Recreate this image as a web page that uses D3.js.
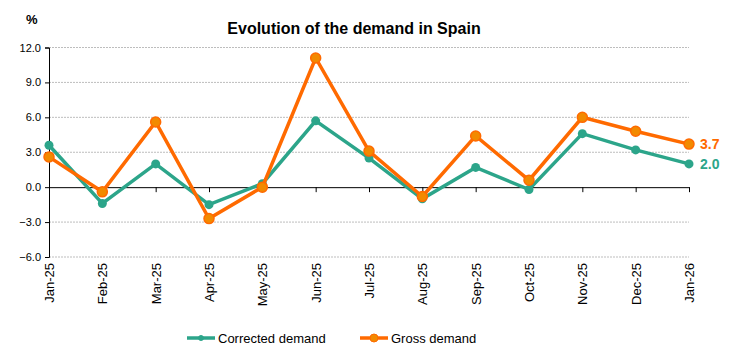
<!DOCTYPE html>
<html>
<head>
<meta charset="utf-8">
<title>Evolution of the demand in Spain</title>
<script src="https://d3js.org/d3.v7.min.js"></script>
<style>
html, body { margin: 0; padding: 0; background: #fff; }
svg { display: block; font-family: "Liberation Sans", Arial, sans-serif; }
.grid line { stroke: #bdbdbd; stroke-dasharray: 2 1; }
</style>
</head>
<body>
<script>
let months = ['Jan-25', 'Feb-25', 'Mar-25', 'Apr-25', 'May-25', 'Jun-25', 'Jul-25', 'Aug-25', 'Sep-25', 'Oct-25', 'Nov-25', 'Dec-25', 'Jan-26'];
let corrected = [3.6, -1.4, 2.0, -1.5, 0.3, 5.7, 2.5, -1.0, 1.7, -0.2, 4.6, 3.2, 2.0];
let gross = [2.6, -0.4, 5.6, -2.7, 0.0, 11.1, 3.1, -0.8, 4.4, 0.6, 6.0, 4.8, 3.7];
let yTicks = [-6, -3, 0, 3, 6, 9, 12];

let green = '#2ca58a', orange = '#ff6a00', orangeFill = '#f28a00';
let font = '"Liberation Sans", Arial, sans-serif';

let svg = d3.select('body').append('svg').attr('width', 745).attr('height', 354);

let x = d3.scalePoint().domain(months).range([49, 689]);
let y = d3.scaleLinear().domain([-6, 12]).range([257, 47.5]);

svg.append('text').attr('x', 354).attr('y', 34).attr('text-anchor', 'middle')
    .attr('font-size', 16).attr('font-weight', 'bold').text('Evolution of the demand in Spain');
svg.append('text').attr('x', 26).attr('y', 24).attr('font-size', 13).attr('font-weight', 'bold').text('%');

// gridlines
svg.append('g').attr('class', 'grid').selectAll('line').data(yTicks.filter(d => d !== 0)).enter().append('line')
    .attr('x1', 49).attr('x2', 689).attr('y1', d => y(d)).attr('y2', d => y(d));

// y axis
let yAxis = svg.append('g').attr('transform', 'translate(49,0)')
    .call(d3.axisLeft(y).tickValues(yTicks).tickSize(4).tickFormat(d3.format('.1f')))
    .attr('font-family', font).attr('font-size', 11);
yAxis.select('.domain').attr('stroke', '#000');
yAxis.selectAll('.tick text').attr('x', -8).attr('fill', '#000');

// x axis at zero
let xAxis = svg.append('g').attr('transform', 'translate(0,' + y(0) + ')')
    .call(d3.axisBottom(x).tickSize(5).tickSizeOuter(0).tickFormat(''));
xAxis.select('.domain').attr('stroke', '#000');

// x labels at bottom, rotated
svg.append('g').selectAll('text').data(months).enter().append('text')
    .attr('transform', d => 'translate(' + (x(d) + 5) + ',263) rotate(-90)')
    .attr('text-anchor', 'end').attr('font-size', 13).text(d => d);

let line = d3.line().x((d, i) => x(months[i])).y(d => y(d));

svg.append('path').datum(corrected).attr('d', line).attr('fill', 'none').attr('stroke', green).attr('stroke-width', 3.5);
svg.append('g').selectAll('circle').data(corrected).enter().append('circle')
    .attr('cx', (d, i) => x(months[i])).attr('cy', d => y(d)).attr('r', 4.5).attr('fill', green);

svg.append('path').datum(gross).attr('d', line).attr('fill', 'none').attr('stroke', orange).attr('stroke-width', 3.5);
svg.append('g').selectAll('circle').data(gross).enter().append('circle')
    .attr('cx', (d, i) => x(months[i])).attr('cy', d => y(d)).attr('r', 5)
    .attr('fill', orangeFill).attr('stroke', orange).attr('stroke-width', 1.5);

// end labels
let last = months.length - 1;
let narrow = '"Liberation Sans Narrow", "Liberation Sans", Arial';
svg.append('text').attr('x', 700).attr('y', y(gross[last]) + 5).attr('font-size', 14).attr('font-weight', 'bold')
    .attr('font-family', narrow).attr('fill', orange).text(d3.format('.1f')(gross[last]));
svg.append('text').attr('x', 700).attr('y', y(corrected[last]) + 5).attr('font-size', 14).attr('font-weight', 'bold')
    .attr('font-family', narrow).attr('fill', green).text(d3.format('.1f')(corrected[last]));

// legend
let legend = [{name: 'Corrected demand', color: green, x: 187, r: 2.5, fill: green}, {name: 'Gross demand', color: orange, x: 360, r: 4, fill: orangeFill}];
let lg = svg.append('g').selectAll('g').data(legend).enter().append('g').attr('transform', d => 'translate(' + d.x + ',338)');
lg.append('line').attr('x1', 0).attr('x2', 28).attr('stroke', d => d.color).attr('stroke-width', 3.5);
lg.append('circle').attr('cx', 14).attr('r', d => d.r).attr('fill', d => d.fill).attr('stroke', d => d.color);
lg.append('text').attr('x', 31).attr('y', 4.5).attr('font-size', 13).text(d => d.name);
</script>
</body>
</html>
